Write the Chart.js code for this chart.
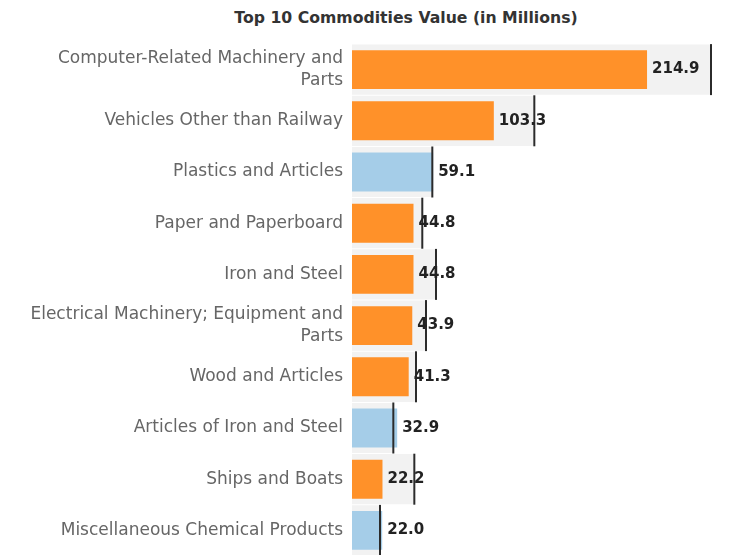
<!DOCTYPE html>
<html>
<head>
    <title>Top 10 Commodities</title>
    <script src="https://cdn.jsdelivr.net/npm/chart.js"></script>
    <style>
        html, body { margin: 0; padding: 0; background: #fff; overflow: hidden; }
        #title {
            position: absolute; left: 0; top: 8px; width: 812px;
            text-align: center; font: bold 15.7px "DejaVu Sans", sans-serif; color: #333;
        }
        #wrap { position: absolute; left: 0; top: 44px; width: 729px; height: 512px; }
    </style>
</head>
<body>
<div id="title">Top 10 Commodities Value (in Millions)</div>
<div id="wrap"><canvas id="commodityChart"></canvas></div>

<script>
    const commodities = [
        ['Computer-Related Machinery and', 'Parts'],
        'Vehicles Other than Railway',
        'Plastics and Articles',
        'Paper and Paperboard',
        'Iron and Steel',
        ['Electrical Machinery; Equipment and', 'Parts'],
        'Wood and Articles',
        'Articles of Iron and Steel',
        'Ships and Boats',
        'Miscellaneous Chemical Products'
    ];
    const values = [214.9, 103.3, 59.1, 44.8, 44.8, 43.9, 41.3, 32.9, 22.2, 22.0];
    const targets = [261.5, 132.8, 58.5, 51.2, 61.2, 53.9, 46.6, 30.1, 45.4, 20.4];

    const ORANGE = '#ff9129';
    const BLUE = '#a5cde8';
    const FONT = '"DejaVu Sans", sans-serif';

    // blue when the value reached its target line, orange otherwise
    const barColors = values.map((v, i) => v >= targets[i] ? BLUE : ORANGE);

    // value labels printed just right of each bar
    const valueLabels = {
        id: 'valueLabels',
        afterDatasetsDraw(chart) {
            const ctx = chart.ctx;
            const meta = chart.getDatasetMeta(1);
            ctx.save();
            ctx.font = 'bold 15px ' + FONT;
            ctx.fillStyle = '#222';
            ctx.textBaseline = 'middle';
            meta.data.forEach((bar, i) => {
                ctx.fillText(values[i].toFixed(1), bar.x + 5, bar.y);
            });
            ctx.restore();
        }
    };

    new Chart(document.getElementById('commodityChart'), {
        type: 'bar',
        data: {
            labels: commodities,
            datasets: [
                {
                    label: 'Target band',
                    data: targets,
                    backgroundColor: '#f2f2f2',
                    categoryPercentage: 1,
                    barPercentage: 0.98,
                    grouped: false,
                    order: 3
                },
                {
                    label: 'Value',
                    data: values,
                    backgroundColor: barColors,
                    categoryPercentage: 1,
                    barPercentage: 0.76,
                    grouped: false,
                    order: 2
                },
                {
                    type: 'line',
                    label: 'Target',
                    data: targets.map((t, i) => ({ x: t, y: i })),
                    showLine: false,
                    pointStyle: 'line',
                    rotation: 90,
                    pointRadius: 25.5,
                    borderColor: '#2b2b2b',
                    borderWidth: 2,
                    clip: false,
                    order: 1
                }
            ]
        },
        options: {
            indexAxis: 'y',
            responsive: true,
            maintainAspectRatio: false,
            animation: false,
            layout: { padding: 0, autoPadding: false },
            plugins: {
                legend: { display: false },
                tooltip: { enabled: false }
            },
            scales: {
                x: {
                    display: false,
                    min: 0,
                    max: 274.6
                },
                y: {
                    grid: { display: false, drawTicks: false },
                    border: { display: false },
                    ticks: {
                        color: '#666',
                        padding: 9,
                        font: { family: FONT, size: 17, lineHeight: 1.25 }
                    },
                    afterFit(scale) {
                        scale.width = 352;
                        scale.paddingTop = 0;
                        scale.paddingBottom = 0;
                    }
                }
            }
        },
        plugins: [valueLabels]
    });
</script>
</body>
</html>
